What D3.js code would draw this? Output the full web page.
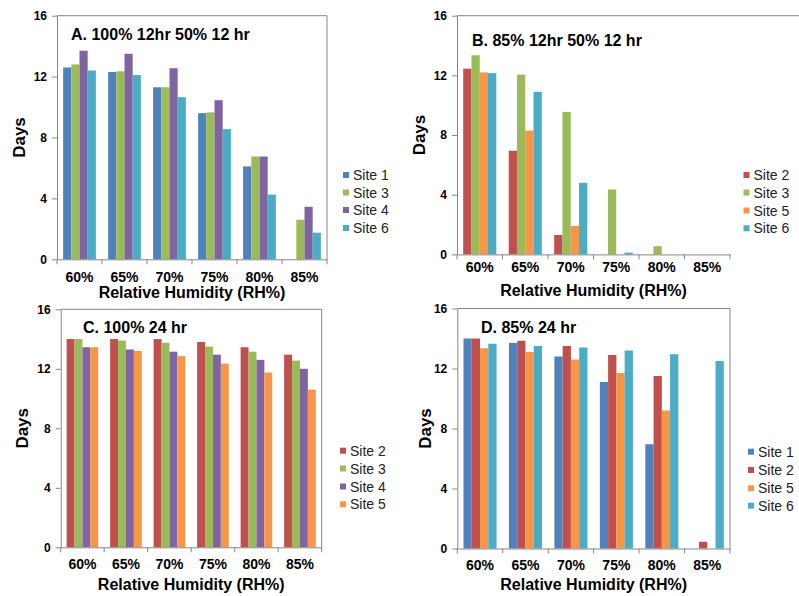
<!DOCTYPE html>
<html>
  <head>
    <script src="https://d3js.org/d3.v7.min.js"></script>
    <style>
      body { margin: 0; background: #fff; }
      text { font-family: "Liberation Sans", Arial, sans-serif; }
    </style>
  </head>
  <body>
    <script>

    // categories and ticks shared by all four panels
    var categories = ["60%", "65%", "70%", "75%", "80%", "85%"];
    var yTicks = [0, 4, 8, 12, 16];

    // A. 100% 12hr 50% 12 hr
    var sitesA = ["Site 1", "Site 3", "Site 4", "Site 6"];
    var a_site1 = [12.6, 12.3, 11.3, 9.6, 6.1, 0];
    var a_site3 = [12.8, 12.35, 11.3, 9.65, 6.75, 2.6];
    var a_site4 = [13.7, 13.5, 12.55, 10.45, 6.75, 3.45];
    var a_site6 = [12.4, 12.1, 10.65, 8.55, 4.25, 1.75];

    // B. 85% 12hr 50% 12 hr
    var sitesB = ["Site 2", "Site 3", "Site 5", "Site 6"];
    var b_site2 = [12.45, 6.95, 1.3, 0, 0, 0];
    var b_site3 = [13.35, 12.05, 9.55, 4.35, 0.55, 0];
    var b_site5 = [12.2, 8.3, 1.9, 0, 0, 0];
    var b_site6 = [12.15, 10.9, 4.8, 0.12, 0, 0];

    // C. 100% 24 hr
    var sitesC = ["Site 2", "Site 3", "Site 4", "Site 5"];
    var c_site2 = [14.0, 14.0, 14.0, 13.8, 13.45, 12.95];
    var c_site3 = [14.0, 13.9, 13.75, 13.5, 13.15, 12.55];
    var c_site4 = [13.45, 13.3, 13.15, 12.95, 12.6, 12.0];
    var c_site5 = [13.45, 13.2, 12.85, 12.35, 11.75, 10.6];

    // D. 85% 24 hr
    var sitesD = ["Site 1", "Site 2", "Site 5", "Site 6"];
    var d_site1 = [14.0, 13.7, 12.8, 11.1, 6.95, 0];
    var d_site2 = [14.0, 13.85, 13.5, 12.9, 11.5, 0.45];
    var d_site5 = [13.35, 13.1, 12.6, 11.7, 9.2, 0];
    var d_site6 = [13.65, 13.5, 13.4, 13.2, 12.95, 12.5];

    var colors = {
      "Site 1": "#4F81BD", "Site 2": "#C0504D", "Site 3": "#9BBB59",
      "Site 4": "#8064A2", "Site 5": "#F79646", "Site 6": "#4BACC6"
    };
    var axisColor = "#868686";

    var w = 799, h = 596;
    var svg = d3.select("body").append("svg")
      .attr("width", w)
      .attr("height", h);

    // layout of each panel (pixel boxes)
    var panels = [
      { title: "A. 100% 12hr 50% 12 hr", sites: sitesA, values: [a_site1, a_site3, a_site4, a_site6],
        left: 57, right: 327, top: 15.7, bottom: 259.3, titleX: 71, titleY: 39.5,
        labelY: 281.5, xTitleY: 298, daysX: 24.5, legX: 343, legY: [175, 192.5, 210, 228], frameRight: true },
      { title: "B. 85% 12hr 50% 12 hr", sites: sitesB, values: [b_site2, b_site3, b_site5, b_site6],
        left: 457, right: 730, top: 15.7, bottom: 254.4, titleX: 472, titleY: 46,
        labelY: 271.5, xTitleY: 296, daysX: 424.5, legX: 743.5, legY: [175, 192.5, 210.5, 228.3], frameRight: false },
      { title: "C. 100% 24 hr", sites: sitesC, values: [c_site2, c_site3, c_site4, c_site5],
        left: 60.7, right: 321.7, top: 309.3, bottom: 547.3, titleX: 83, titleY: 333,
        labelY: 568.5, xTitleY: 590, daysX: 27.5, legX: 340, legY: [450.7, 468.5, 486.5, 504.3], frameRight: true },
      { title: "D. 85% 24 hr", sites: sitesD, values: [d_site1, d_site2, d_site5, d_site6],
        left: 457.3, right: 730, top: 308.5, bottom: 548.5, titleX: 481, titleY: 333,
        labelY: 569.5, xTitleY: 590, daysX: 431, legX: 748, legY: [451.7, 470, 488.3, 505.7], frameRight: true }
    ];

    panels.forEach(drawPanel);

    function drawPanel(p) {
      var g = svg.append("g");

      var x = d3.scaleBand()
        .domain(categories)
        .range([p.left, p.right]);

      // excel style gap width of 150%
      var x1 = d3.scaleBand()
        .domain(p.sites)
        .range([0, x.bandwidth()])
        .paddingInner(0)
        .paddingOuter(0.75);

      var y = d3.scaleLinear()
        .domain([0, 16])
        .range([p.bottom, p.top]);

      // bars
      p.sites.forEach(function(site, si) {
        g.selectAll(null)
          .data(p.values[si].map(function(v, i) { return { cat: categories[i], v: v }; }))
          .enter()
          .append("rect")
          .attr("x", function(d) { return x(d.cat) + x1(site); })
          .attr("y", function(d) { return y(d.v); })
          .attr("width", x1.bandwidth())
          .attr("height", function(d) { return y(0) - y(d.v); })
          .attr("fill", colors[site]);
      });

      // frame (top and right)
      var frameEnd = p.frameRight ? p.right : w;
      g.append("line")
        .attr("x1", p.left).attr("x2", frameEnd)
        .attr("y1", p.top).attr("y2", p.top)
        .attr("stroke", axisColor);
      if (p.frameRight) {
        g.append("line")
          .attr("x1", p.right).attr("x2", p.right)
          .attr("y1", p.top).attr("y2", p.bottom)
          .attr("stroke", axisColor);
      }

      // y axis
      var yAxis = g.append("g")
        .attr("transform", "translate(" + p.left + ",0)")
        .call(d3.axisLeft(y).tickValues(yTicks).tickSize(5).tickSizeOuter(0).tickPadding(5));
      yAxis.select(".domain").attr("stroke", axisColor);
      yAxis.selectAll(".tick line").attr("stroke", axisColor);
      yAxis.selectAll(".tick text")
        .attr("fill", "#000")
        .style("font-size", "12px")
        .style("font-weight", "bold")
        .style("font-family", "'Liberation Sans', Arial, sans-serif");

      // x axis line with ticks on category boundaries
      var xAxis = g.append("g")
        .attr("transform", "translate(0," + p.bottom + ")")
        .call(d3.axisBottom(x).tickSize(0).tickSizeOuter(0).tickFormat(""));
      xAxis.select(".domain").attr("stroke", axisColor);
      var bounds = categories.map(function(c) { return x(c); }).concat([x.range()[1]]);
      g.selectAll(null)
        .data(bounds)
        .enter()
        .append("line")
        .attr("x1", function(d) { return d; })
        .attr("x2", function(d) { return d; })
        .attr("y1", p.bottom)
        .attr("y2", p.bottom + 5)
        .attr("stroke", axisColor);

      // category labels
      g.selectAll(null)
        .data(categories)
        .enter()
        .append("text")
        .attr("x", function(d) { return x(d) + x.bandwidth() / 2; })
        .attr("y", p.labelY)
        .attr("text-anchor", "middle")
        .attr("font-size", "14px")
        .attr("font-weight", "bold")
        .text(function(d) { return d; });

      // axis titles
      g.append("text")
        .attr("x", (p.left + p.right) / 2)
        .attr("y", p.xTitleY)
        .attr("text-anchor", "middle")
        .attr("font-size", "16px")
        .attr("font-weight", "bold")
        .text("Relative Humidity (RH%)");

      g.append("text")
        .attr("transform", "translate(" + p.daysX + "," + ((p.top + p.bottom) / 2) + ") rotate(-90)")
        .attr("text-anchor", "middle")
        .attr("font-size", "17px")
        .attr("font-weight", "bold")
        .text("Days");

      // panel title
      g.append("text")
        .attr("x", p.titleX)
        .attr("y", p.titleY)
        .attr("font-size", "16px")
        .attr("font-weight", "bold")
        .text(p.title);

      // legend
      p.sites.forEach(function(site, i) {
        g.append("rect")
          .attr("x", p.legX)
          .attr("y", p.legY[i] - 3)
          .attr("width", 6)
          .attr("height", 6)
          .attr("fill", colors[site]);
        g.append("text")
          .attr("x", p.legX + 10)
          .attr("y", p.legY[i] + 5)
          .attr("font-size", "14px")
          .attr("fill", "#222")
          .text(site);
      });
    }

    </script>
  </body>
</html>
